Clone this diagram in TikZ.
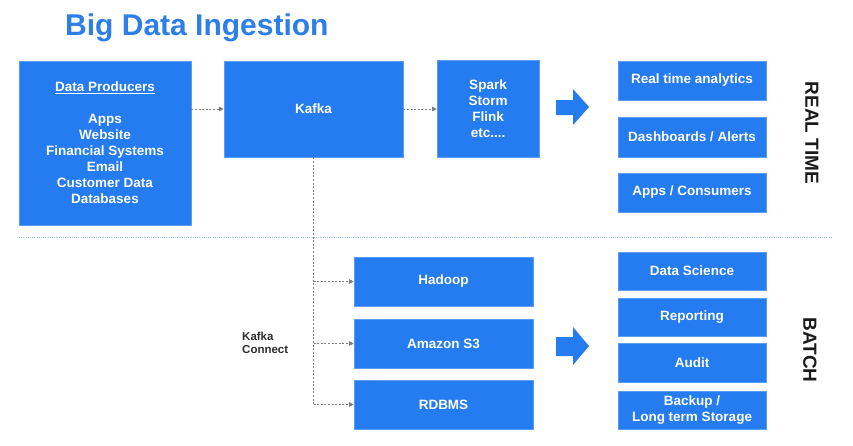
\documentclass[tikz,border=0pt]{standalone}
\usepackage{fontspec}
\setmainfont{Liberation Sans}
\usepackage{xcolor}
\usetikzlibrary{arrows, arrows.meta}
\usetikzlibrary{positioning}
\usetikzlibrary{calc}
\definecolor{boxblue}{RGB}{37,124,240}
\definecolor{titleblue}{RGB}{44,126,232}
\definecolor{linegray}{RGB}{125,125,125}
\definecolor{sepblue}{RGB}{160,196,214}
\definecolor{labelgray}{RGB}{45,45,45}

\tikzset{
	blk/.style={fill=boxblue, draw=boxblue!75!white, line width=0.6pt, text=white, inner sep=0pt, align=center,
		font=\bfseries\fontsize{13.5}{16}\selectfont},
	conn/.style={linegray, line width=0.9pt, dash pattern=on 2pt off 1.6pt, -{Triangle[length=4.5pt,width=4.5pt]}},
	connline/.style={linegray, line width=0.9pt, dash pattern=on 2pt off 1.6pt},
	side/.style={rotate=-90, text=labelgray!60!black, font=\bfseries\fontsize{19}{22}\selectfont}
}

\begin{document}
\begin{tikzpicture}[x=1pt, y=-1pt]
	\useasboundingbox (0,0) rectangle (853,445);
	
	% title
	\node[anchor=base west, inner sep=0pt, text=titleblue, font=\bfseries\fontsize{30}{34}\selectfont] (title) at (65,35) {Big Data Ingestion};
	
	% real time part
	\node[blk, minimum width=172, minimum height=164] (prod) at (105,143) {\underline{Data Producers}\\[16pt]Apps\\Website\\Financial Systems\\Email\\Customer Data\\Databases};
	\node[blk, minimum width=179, minimum height=96] (kafka) at (313.5,109) {Kafka};
	\node[blk, minimum width=102, minimum height=97] (spark) at (488,108.5) {Spark\\Storm\\Flink\\etc....};
	
	\node[blk, minimum width=148, minimum height=39] (rta) at (692,80.5) {Real time analytics};
	\node[blk, minimum width=148, minimum height=40] (dash) at (692,137) {Dashboards / Alerts};
	\node[blk, minimum width=148, minimum height=39] (cons) at (692,192.5) {Apps / Consumers};
	
	\draw[conn] (prod.east |- kafka.west) -- (kafka.west);
	\draw[conn] (kafka.east) -- (kafka.east -| spark.west);
	
	% big arrow
	\fill[boxblue] (556,100) -- (573,100) -- (573,89) -- (589,107) -- (573,125) -- (573,115) -- (556,115) -- cycle;
	
	\node[side] (rt) at (812,133) {REAL TIME};
	
	% separator
	\draw[sepblue, line width=0.8pt, dash pattern=on 1pt off 1.2pt] (19,237) -- (832,237);
	
	% batch part
	\node[blk, minimum width=179, minimum height=49] (hadoop) at (443.5,281.5) {Hadoop};
	\node[blk, minimum width=179, minimum height=49] (s3) at (443.5,343.5) {Amazon S3};
	\node[blk, minimum width=179, minimum height=49] (rdbms) at (443.5,404.5) {RDBMS};
	
	\draw[connline] (kafka.south) -- (kafka.south |- rdbms.west);
	\foreach \t in {hadoop, s3, rdbms}
		\draw[conn] (kafka.south |- \t.west) -- (\t.west);
	
	\node[anchor=west, align=left, inner sep=0pt, text=labelgray, font=\bfseries\fontsize{11.5}{13}\selectfont] (kc) at (242,343) {Kafka\\Connect};
	
	% big arrow
	\fill[boxblue] (556,337) -- (573,337) -- (573,327) -- (589,346) -- (573,365) -- (573,356) -- (556,356) -- cycle;
	
	\node[blk, minimum width=148, minimum height=38] (ds) at (692,271) {Data Science};
	\node[blk, minimum width=148, minimum height=38] (rep) at (692,317) {Reporting};
	\node[blk, minimum width=148, minimum height=39] (audit) at (692,362.5) {Audit};
	\node[blk, minimum width=148, minimum height=38] (backup) at (692,410) {Backup /\\Long term Storage};
	
	\node[side] (batch) at (810,350) {BATCH};
\end{tikzpicture}
\end{document}
